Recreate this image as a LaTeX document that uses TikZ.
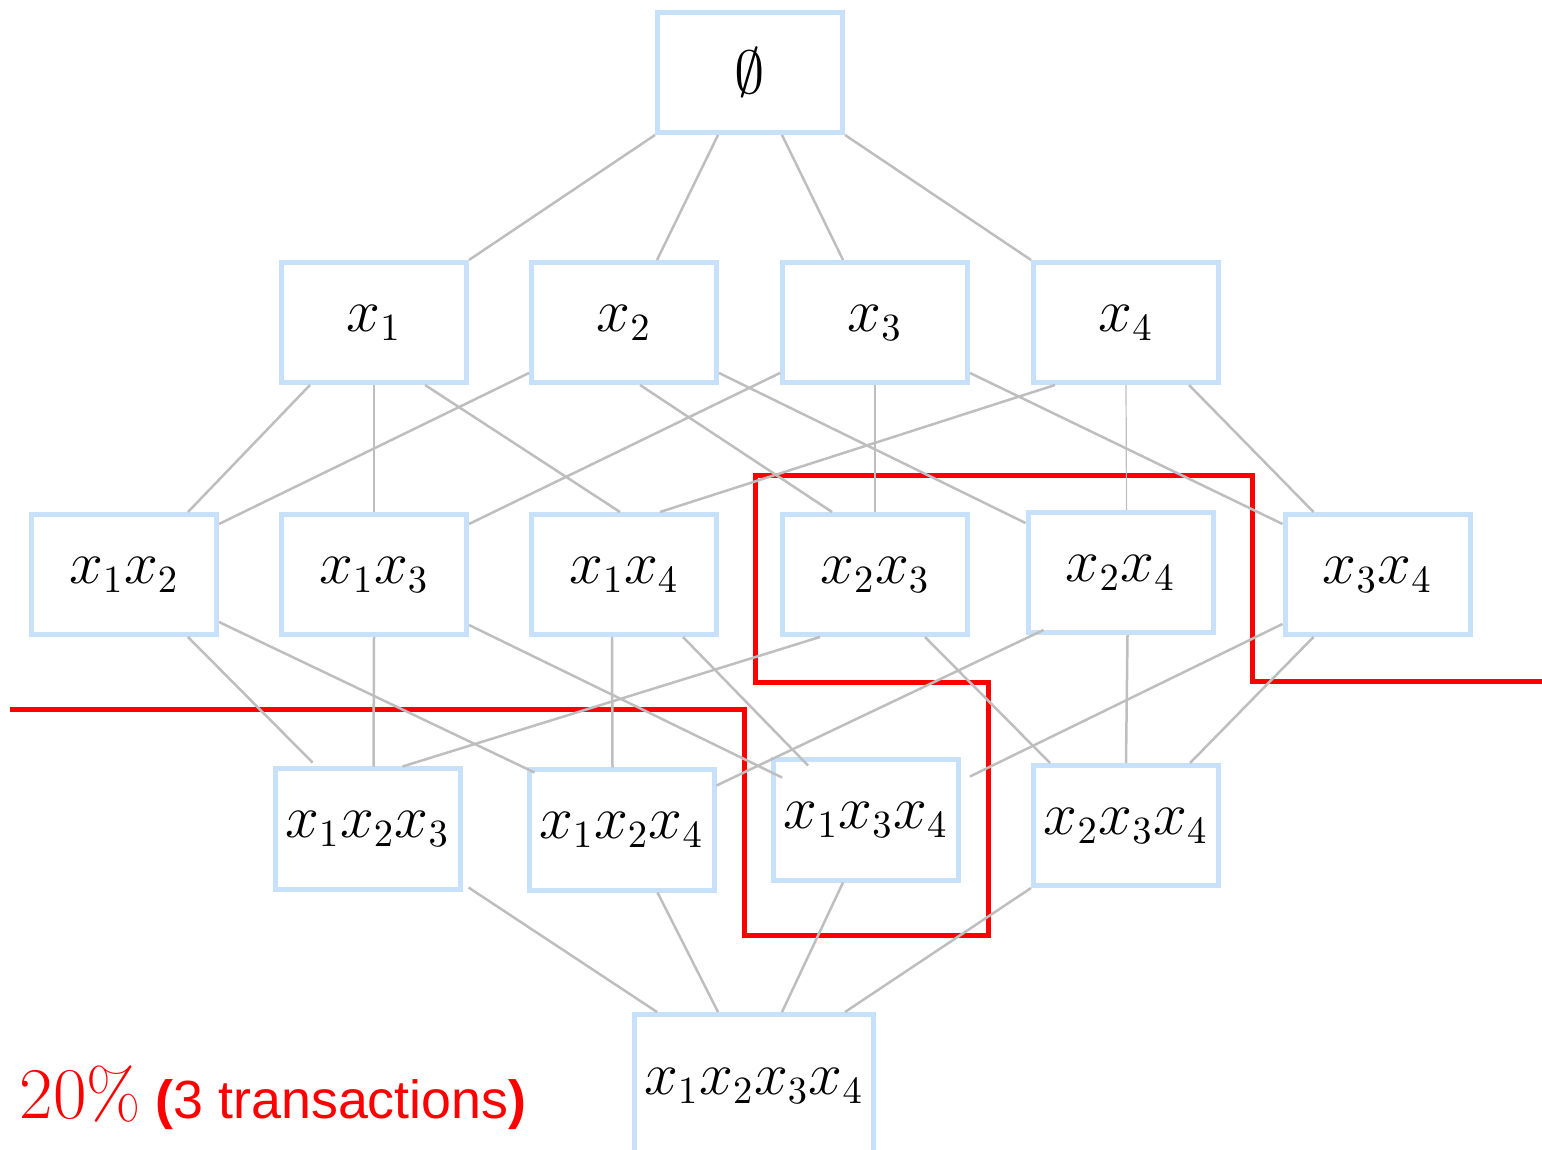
\documentclass[tikz,border=0pt]{standalone}
\usepackage{fontspec}
\newfontfamily\arialfont{Liberation Sans}
\usetikzlibrary{calc}
\definecolor{boxblue}{RGB}{200,225,250}
\definecolor{linkgray}{RGB}{190,190,190}
\tikzset{
  itemset/.style={draw=boxblue, line width=0.5mm, minimum width=18.5mm, minimum height=12mm, inner sep=0pt, font=\fontsize{16}{19}\selectfont},
  link/.style={draw=linkgray, line width=0.25mm},
  border/.style={draw=red, line width=0.5mm}
 }

\begin{document}
\begin{tikzpicture}
  \useasboundingbox (0,0) rectangle (15.42,-11.5);
  % the itemset lattice, one row per itemset size
  \node[itemset] (e) at (7.50,-0.725) {$\emptyset$};
  \node[itemset] (x1) at (3.74,-3.225) {$x_1$};
  \node[itemset] (x2) at (6.24,-3.225) {$x_2$};
  \node[itemset] (x3) at (8.75,-3.225) {$x_3$};
  \node[itemset] (x4) at (11.26,-3.225) {$x_4$};
  \node[itemset] (x12) at (1.24,-5.745) {$x_1x_2$};
  \node[itemset] (x13) at (3.74,-5.745) {$x_1x_3$};
  \node[itemset] (x14) at (6.24,-5.745) {$x_1x_4$};
  \node[itemset] (x23) at (8.75,-5.745) {$x_2x_3$};
  \node[itemset] (x24) at (11.205,-5.725) {$x_2x_4$};
  \node[itemset] (x34) at (13.775,-5.745) {$x_3x_4$};
  \node[itemset] (x123) at (3.675,-8.29) {$x_1x_2x_3$};
  \node[itemset] (x124) at (6.215,-8.30) {$x_1x_2x_4$};
  \node[itemset] (x134) at (8.66,-8.20) {$x_1x_3x_4$};
  \node[itemset] (x234) at (11.26,-8.255) {$x_2x_3x_4$};
  \node[itemset, minimum width=23.9mm, minimum height=14.3mm] (x1234) at (7.54,-10.86) {$x_1x_2x_3x_4$};

  % frequent / infrequent border
  \draw[border] (0.10,-7.10) -- (7.44,-7.10) -- (7.44,-9.35) -- (9.88,-9.35) -- (9.88,-6.83)
    -- (7.55,-6.83) -- (7.55,-4.76) -- (12.52,-4.76) -- (12.52,-6.82) -- (15.42,-6.82);

  \draw[link] (e.south west) -- (x1.north east);
  \draw[link] ([xshift=-3.2mm]e.south) -- ([xshift=3.3mm]x2.north);
  \draw[link] ([xshift=3.2mm]e.south) -- ([xshift=-3.2mm]x3.north);
  \draw[link] (e.south east) -- (x4.north west);

  \draw[link] ([xshift=-6.4mm]x1.south) -- ([xshift=6.4mm]x12.north);
  \draw[link] (x1.south) -- (x13.north);
  \draw[link] ([xshift=5.1mm]x1.south) -- ([xshift=-0.4mm]x14.north);
  \draw[link] ([yshift=1.2mm]x2.south west) -- ([yshift=-1.2mm]x12.north east);
  \draw[link] ([xshift=1.6mm]x2.south) -- ([xshift=-4.3mm]x23.north);
  \draw[link] ([yshift=1.2mm]x2.south east) -- ([yshift=-1.3mm]x24.north west);
  \draw[link] ([yshift=1.2mm]x3.south west) -- ([yshift=-1.2mm]x13.north east);
  \draw[link] (x3.south) -- (x23.north);
  \draw[link] ([yshift=1.2mm]x3.south east) -- ([yshift=-1.2mm]x34.north west);
  \draw[link] ([xshift=-7.1mm]x4.south) -- ([xshift=3.6mm]x14.north);
  \draw[link, line width=0.12mm] (x4.south) -- ([xshift=0.6mm]x24.north);
  \draw[link] ([xshift=6.3mm]x4.south) -- ([xshift=-6.4mm]x34.north);

  \draw[link] ([xshift=6.4mm]x12.south) -- ([xshift=-5.5mm,yshift=0.4mm]x123.north);
  \draw[link] ([yshift=1.5mm]x12.south east) -- ([shift={(0.8mm,-0.5mm)}]x124.north west);
  \draw[link] (x13.south) -- ([xshift=0.6mm]x123.north);
  \draw[link] ([yshift=1.2mm]x13.south east) -- ([shift={(1.1mm,-2mm)}]x134.north west);
  \draw[link] ([xshift=-1.2mm]x14.south) -- ([xshift=-0.9mm]x124.north);
  \draw[link] ([xshift=5.9mm]x14.south) -- ([shift={(3.7mm,-0.8mm)}]x134.north west);
  \draw[link] ([xshift=-5.5mm]x23.south) -- ([xshift=3.5mm]x123.north);
  \draw[link] ([xshift=5mm]x23.south) -- ([xshift=-7.6mm]x234.north);
  \draw[link] ([shift={(1.8mm,0.5mm)}]x24.south west) -- ([yshift=-1.8mm]x124.north east);
  \draw[link] ([xshift=0.7mm]x24.south) -- (x234.north);
  \draw[link] ([yshift=1.3mm]x34.south west) -- ([shift={(0.9mm,-1.9mm)}]x134.north east);
  \draw[link] ([xshift=-6.4mm]x34.south) -- ([xshift=6.4mm]x234.north);

  \draw[link] ([shift={(0.6mm,0.4mm)}]x123.south east) -- ([xshift=-9.7mm]x1234.north);
  \draw[link] ([xshift=3.6mm]x124.south) -- ([xshift=-3.6mm]x1234.north);
  \draw[link] ([xshift=-2.3mm]x134.south) -- ([xshift=2.8mm]x1234.north);
  \draw[link] (x234.south west) -- ([xshift=9.1mm]x1234.north);

  \node[anchor=base west, text=red, inner sep=0pt] (support) at (0.19,-11.18)
    {\fontsize{20}{24}\selectfont$20\%$\arialfont\fontsize{15.3}{18}\selectfont\ {\bfseries(}3 transactions{\bfseries)}};
\end{tikzpicture}
\end{document}
